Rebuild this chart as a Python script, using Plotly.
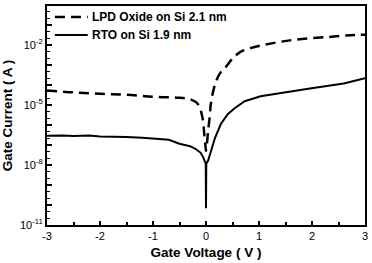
import plotly.graph_objects as go

# LPD Oxide on Si 2.1 nm (dashed): gate voltage (V), log10 of gate current (A)
lpd_v = [-3.0, -2.5, -2.0, -1.5, -1.0, -0.5, -0.3, -0.15, -0.08, -0.05, -0.03, -0.01, 0.0,
         0.04, 0.075, 0.09, 0.17, 0.26, 0.35, 0.5, 0.65, 0.8, 1.1, 1.66, 2.3, 2.8, 3.0]
lpd_log = [-4.27, -4.37, -4.44, -4.49, -4.59, -4.64, -4.71, -4.96, -5.46, -5.95, -6.54, -7.04, -7.29,
           -6.3, -5.46, -4.96, -3.97, -3.43, -3.18, -2.68, -2.34, -2.19, -1.99, -1.74, -1.6, -1.5, -1.49]

# RTO on Si 1.9 nm (solid)
rto_v = [-3.0, -2.7, -2.5, -2.2, -2.0, -1.7, -1.5, -1.2, -1.0, -0.7, -0.5, -0.3, -0.2, -0.1, -0.05,
         -0.02, -0.005, 0.0, 0.005, 0.04, 0.1, 0.17, 0.28, 0.41, 0.54, 0.73, 1.03, 1.35, 1.96, 2.6, 3.0]
rto_log = [-6.54, -6.52, -6.55, -6.53, -6.57, -6.58, -6.6, -6.64, -6.69, -6.74, -6.94, -7.06, -7.19, -7.39, -7.63,
           -7.83, -7.93, -10.16, -7.93, -7.78, -7.2, -6.64, -5.95, -5.46, -5.16, -4.81, -4.56, -4.42, -4.17, -3.92, -3.66]

series_names = ["LPD Oxide on Si 2.1 nm", "RTO on Si 1.9 nm"]
y_tick_exps = [-11, -8, -5, -2]
x_ticks = [-3, -2, -1, 0, 1, 2, 3]

FONT = "Liberation Sans"

fig = go.Figure()
fig.add_trace(go.Scatter(x=lpd_v, y=[10 ** v for v in lpd_log], mode="lines", name=series_names[0],
                         line=dict(color="black", width=2.5, dash="10px,6px"), line_shape="spline"))
fig.add_trace(go.Scatter(x=rto_v, y=[10 ** v for v in rto_log], mode="lines", name=series_names[1],
                         line=dict(color="black", width=2)))

# hand-drawn legend (line samples + labels) in the top-left corner of the plot
legend_rows = [(0.950, "10px,6px", 2.5), (0.868, "solid", 2)]
for (yp, dash, w), name in zip(legend_rows, series_names):
    fig.add_shape(type="line", xref="paper", yref="paper", x0=0.025, x1=0.128, y0=yp, y1=yp,
                  line=dict(color="black", width=w, dash=dash))
    fig.add_annotation(xref="paper", yref="paper", x=0.134, y=yp, xanchor="left", yanchor="middle",
                       text="<b>%s</b>" % name, showarrow=False,
                       font=dict(family=FONT, size=12, color="black"))

all_exps = list(range(-11, 1))
fig.update_layout(
    width=372, height=263,
    margin=dict(l=47, r=4, t=4, b=38),
    paper_bgcolor="white", plot_bgcolor="white",
    font=dict(family=FONT, color="black", size=11),
    showlegend=False,
    xaxis=dict(range=[-3, 3], tickvals=x_ticks, ticktext=[str(v) for v in x_ticks],
               ticks="inside", ticklen=4, tickwidth=1.5, tickcolor="black",
               minor=dict(dtick=0.5, ticks="inside", ticklen=3, tickwidth=1.5, tickcolor="black"),
               showline=True, linecolor="black", linewidth=2, mirror=True,
               showgrid=False, zeroline=False,
               tickfont=dict(size=11),
               title=dict(text="<b>Gate Voltage ( V )</b>", font=dict(size=13.5), standoff=6)),
    yaxis=dict(type="log", range=[-11, -0.05],
               tickvals=[10 ** e for e in all_exps],
               ticktext=[("10<sup>%d</sup>" % e) if e in y_tick_exps else "" for e in all_exps],
               ticks="inside", ticklen=5, tickwidth=1.5, tickcolor="black",
               minor=dict(ticks="inside", ticklen=3, tickwidth=1, tickcolor="black", showgrid=False),
               showline=True, linecolor="black", linewidth=2, mirror=True,
               showgrid=False, zeroline=False,
               tickfont=dict(size=11),
               title=dict(text="<b>Gate Current ( A )</b>", font=dict(size=13.5), standoff=4)),
)

fig.write_html("out.html")
